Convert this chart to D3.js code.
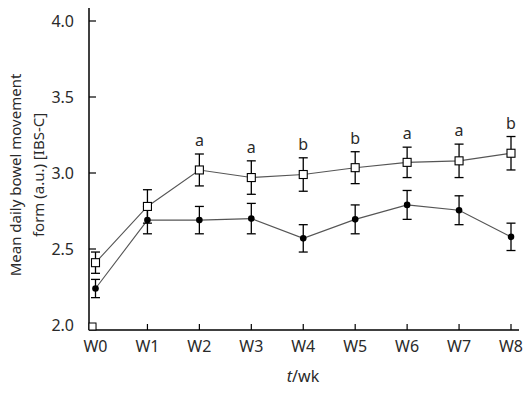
<!doctype html>
<html lang="en">
<head>
<meta charset="utf-8" />
<title>Mean daily bowel movement form</title>
<style>
  html, body { margin: 0; padding: 0; background: #fff; }
  svg { display: block; }
  text { font-family: "Noto Sans", "DejaVu Sans", sans-serif; fill: #2a2a2a; }
</style>
</head>
<body>
<script src="https://cdn.jsdelivr.net/npm/d3@7"></script>
<script>

// Data
var weeks = ['W0', 'W1', 'W2', 'W3', 'W4', 'W5', 'W6', 'W7', 'W8'];
var openMean = [2.41, 2.78, 3.02, 2.97, 2.99, 3.035, 3.07, 3.08, 3.13];
var openErr  = [0.07, 0.11, 0.105, 0.11, 0.11, 0.105, 0.10, 0.11, 0.11];
var filledMean = [2.24, 2.69, 2.69, 2.70, 2.57, 2.695, 2.79, 2.755, 2.58];
var filledErr  = [0.06, 0.09, 0.09, 0.10, 0.09, 0.095, 0.095, 0.095, 0.09];
var sigLetters = ['', '', 'a', 'a', 'b', 'b', 'a', 'a', 'b'];
var yTicks = [2.0, 2.5, 3.0, 3.5, 4.0];

var width = 529, height = 393;
var svg = d3.select('body').append('svg')
  .attr('width', width)
  .attr('height', height);

// Scales
var x = d3.scalePoint().domain(weeks).range([95.5, 511]);
var y = d3.scaleLinear().domain([2, 4]).range([325, 21]);

var axisX = 89, axisY = 330;

// Axis lines
svg.append('line')
  .attr('x1', axisX).attr('x2', axisX)
  .attr('y1', 8).attr('y2', axisY)
  .attr('stroke', '#000').attr('stroke-width', 1.5);
svg.append('line')
  .attr('x1', axisX).attr('x2', 519)
  .attr('y1', axisY).attr('y2', axisY)
  .attr('stroke', '#000').attr('stroke-width', 1.5);

// Y ticks (inward)
var yt = svg.selectAll('.ytick').data(yTicks).enter().append('g');
yt.append('line')
  .attr('x1', axisX).attr('x2', axisX + 7)
  .attr('y1', function (d) { return y(d); })
  .attr('y2', function (d) { return y(d); })
  .attr('stroke', '#000').attr('stroke-width', 1.2);
yt.append('text')
  .attr('x', 74)
  .attr('y', function (d) { return y(d); })
  .attr('dy', '0.36em')
  .attr('text-anchor', 'end')
  .style('font-size', '16px')
  .text(function (d) { return d.toFixed(1); });

// X ticks (inward)
var xt = svg.selectAll('.xtick').data(weeks).enter().append('g');
xt.append('line')
  .attr('x1', function (d) { return x(d); })
  .attr('x2', function (d) { return x(d); })
  .attr('y1', axisY).attr('y2', axisY - 6)
  .attr('stroke', '#000').attr('stroke-width', 1.2);
xt.append('text')
  .attr('x', function (d) { return x(d); })
  .attr('y', 352)
  .attr('text-anchor', 'middle')
  .style('font-size', '16px')
  .text(function (d) { return d; });

// Axis titles
var xt2 = svg.append('text')
  .attr('x', 303).attr('y', 382)
  .attr('text-anchor', 'middle')
  .style('font-size', '16px');
xt2.append('tspan').style('font-style', 'italic').text('t');
xt2.append('tspan').text('/wk');

var yl = svg.append('text')
  .attr('transform', 'translate(0,175) rotate(-90)')
  .attr('text-anchor', 'middle')
  .style('font-size', '15px');
yl.append('tspan').attr('x', 0).attr('y', 21).text('Mean daily bowel movement');
yl.append('tspan').attr('x', 0).attr('y', 44).text('form (a.u.) [IBS-C]');

// Stray square marker on the y axis at the bottom
svg.append('rect')
  .attr('x', axisX).attr('y', y(2) - 2)
  .attr('width', 7).attr('height', 7)
  .attr('fill', '#fff').attr('stroke', '#000');

function drawSeries(means, errs, filled) {
  var pts = weeks.map(function (w, i) { return { w: w, m: means[i], e: errs[i] }; });
  var g = svg.append('g');
  g.append('path')
    .datum(pts)
    .attr('fill', 'none')
    .attr('stroke', '#555')
    .attr('stroke-width', 1.1)
    .attr('d', d3.line()
      .x(function (d) { return x(d.w); })
      .y(function (d) { return y(d.m); }));

  var eb = g.selectAll('.err').data(pts).enter().append('g')
    .attr('stroke', '#000').attr('stroke-width', 1.3);
  eb.append('line')
    .attr('x1', function (d) { return x(d.w); })
    .attr('x2', function (d) { return x(d.w); })
    .attr('y1', function (d) { return y(d.m + d.e); })
    .attr('y2', function (d) { return y(d.m - d.e); });
  [1, -1].forEach(function (s) {
    eb.append('line')
      .attr('x1', function (d) { return x(d.w) - 4.5; })
      .attr('x2', function (d) { return x(d.w) + 4.5; })
      .attr('y1', function (d) { return y(d.m + s * d.e); })
      .attr('y2', function (d) { return y(d.m + s * d.e); });
  });

  if (filled) {
    g.selectAll('.pt').data(pts).enter().append('circle')
      .attr('cx', function (d) { return x(d.w); })
      .attr('cy', function (d) { return y(d.m); })
      .attr('r', 3.3)
      .attr('fill', '#000');
  } else {
    g.selectAll('.pt').data(pts).enter().append('rect')
      .attr('x', function (d) { return x(d.w) - 4; })
      .attr('y', function (d) { return y(d.m) - 4; })
      .attr('width', 8).attr('height', 8)
      .attr('fill', '#fff')
      .attr('stroke', '#000').attr('stroke-width', 1.1);
  }
  return pts;
}

drawSeries(filledMean, filledErr, true);
var openPts = drawSeries(openMean, openErr, false);

// Significance letters
svg.selectAll('.sig').data(openPts).enter().append('text')
  .attr('x', function (d) { return x(d.w); })
  .attr('y', function (d) { return y(d.m + d.e) - 8; })
  .attr('text-anchor', 'middle')
  .style('font-size', '16px')
  .text(function (d, i) { return sigLetters[i]; });

</script>
</body>
</html>
